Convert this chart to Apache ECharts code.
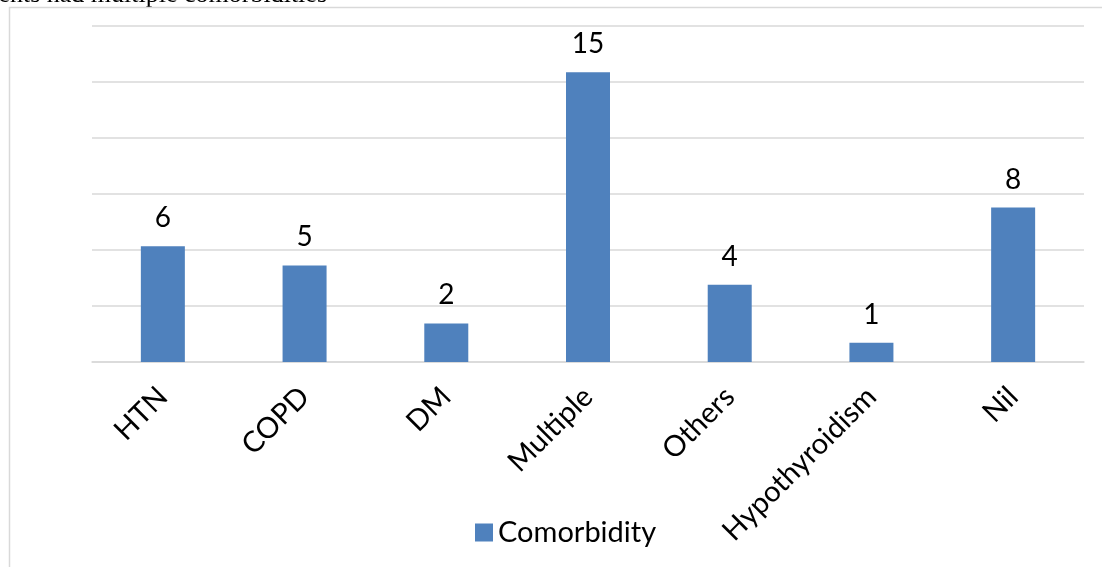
<!DOCTYPE html>
<html>
<head>
<meta charset="utf-8">
<title>Comorbidity</title>
<script src="https://cdn.jsdelivr.net/npm/echarts@6/dist/echarts.min.js"></script>
<style>
  html, body {
    margin: 0;
    padding: 0;
    background: #fff;
  }
  #chart {
    width: 1102px;
    height: 567px;
  }
</style>
</head>
<body>
<div id="chart"></div>
<script>
// 数据
const categories = ['HTN', 'COPD', 'DM', 'Multiple', 'Others', 'Hypothyroidism', 'Nil']
const comorbidity = [6, 5, 2, 15, 4, 1, 8]
const seriesName = 'Comorbidity'
const captionText = 'patients had multiple comorbidities'

const chart = echarts.init(document.getElementById('chart'))

const font = 'Lato, "Liberation Sans", sans-serif'

const option = {
  animation: false,
  // 页面上残留的正文和图框
  graphic: [
    {
      type: 'text',
      x: 327,
      y: 8,
      style: {
        text: captionText,
        font: '26px "Liberation Serif", "DejaVu Serif", serif',
        fill: '#000',
        align: 'right',
        verticalAlign: 'bottom'
      },
      z: 1
    },
    {
      type: 'rect',
      shape: { x: 9.5, y: 7.5, width: 1200, height: 700 },
      style: { fill: 'none', stroke: '#d9d9d9', lineWidth: 1.5 },
      z: 2
    }
  ],
  legend: {
    data: [seriesName],
    left: 470,
    top: 513,
    icon: 'rect',
    itemWidth: 18,
    itemHeight: 18,
    itemGap: 8,
    textStyle: {
      fontFamily: font,
      fontSize: 29,
      color: '#000'
    }
  },
  grid: {
    left: 92,
    right: 18,
    top: 26,
    bottom: 205,
    containLabel: false
  },
  xAxis: {
    type: 'category',
    data: categories,
    axisLine: { lineStyle: { color: '#d9d9d9', width: 1.5 } },
    axisTick: { show: false },
    axisLabel: {
      rotate: 45,
      margin: 30,
      interval: 0,
      fontFamily: font,
      fontSize: 29,
      color: '#000'
    }
  },
  yAxis: {
    type: 'value',
    min: 0,
    max: 17.4,
    interval: 2.9,
    axisLine: { show: false },
    axisTick: { show: false },
    axisLabel: { show: false },
    splitLine: { lineStyle: { color: '#d9d9d9', width: 1.5 } }
  },
  series: [
    {
      name: seriesName,
      type: 'bar',
      data: comorbidity,
      barWidth: 44,
      itemStyle: {
        color: '#4f81bd'
      },
      label: {
        show: true,
        position: 'top',
        distance: 14,
        fontFamily: font,
        fontSize: 28,
        color: '#000'
      }
    }
  ]
}

chart.setOption(option)

window.addEventListener('resize', () => {
  chart.resize()
})
</script>
</body>
</html>
